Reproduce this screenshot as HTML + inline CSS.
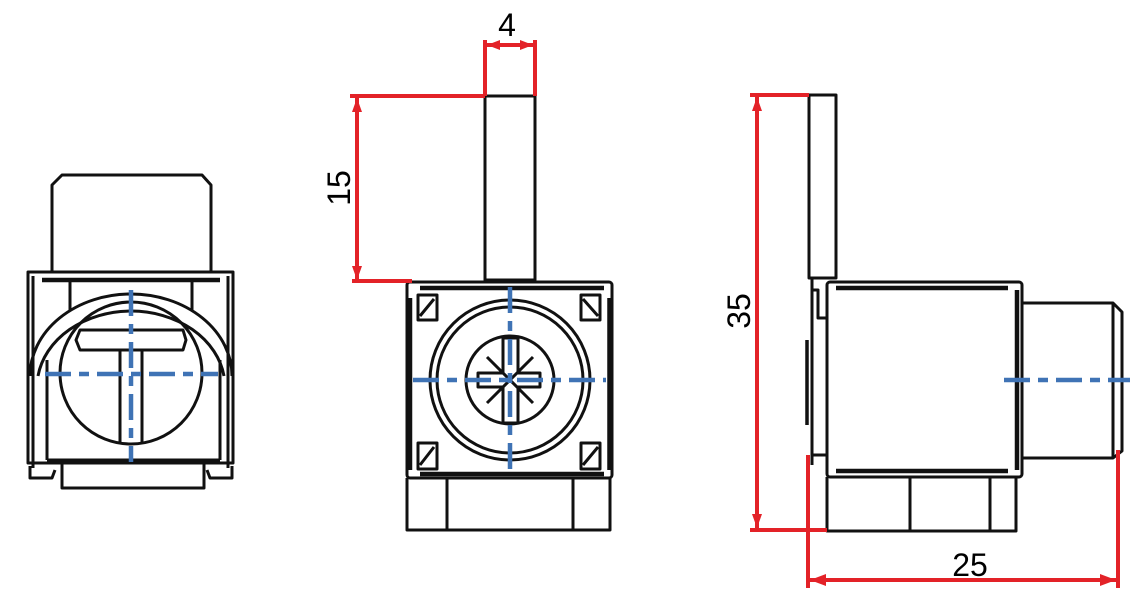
<!DOCTYPE html>
<html><head><meta charset="utf-8"><style>html,body{margin:0;padding:0;background:#fff}svg{display:block}</style></head><body>
<svg width="1140" height="604" viewBox="0 0 1140 604" xmlns="http://www.w3.org/2000/svg" font-family="Liberation Sans, sans-serif">
<g fill="none" stroke="#111" stroke-width="3" stroke-linejoin="round">
<!-- LEFT VIEW -->
<path d="M52 272 V185 L62 175 H202 L211 185 V272"/>
<rect x="28" y="272" width="205" height="191"/>
<line x1="33" y1="276" x2="33" y2="468"/><line x1="228" y1="276" x2="228" y2="468"/>
<line x1="42" y1="280" x2="220" y2="280" stroke-width="4.5"/>
<path d="M47 460 V360 M220 460 V360"/>
<line x1="47" y1="460" x2="220" y2="460"/>
<path d="M70 282 V310 M192 282 V310"/>
<path d="M30 376 A101 82 0 0 1 232 376"/>
<path d="M38 376 A94 76 0 0 1 224 376"/>
<circle cx="131" cy="373" r="71"/>
<path d="M80 330 H183 L186 340 L183 350 H80 L76 340 Z"/>
<path d="M120 350 V443 M142 350 V443"/>
<path d="M62 463 V488 H204 V463"/>
<path d="M30 466 V478 H52 L55 470 M232 466 V478 H210 L207 470"/>

<!-- MIDDLE VIEW -->
<rect x="485" y="96" width="50" height="184"/>
<rect x="407" y="282" width="205" height="196" rx="3"/>
<line x1="420" y1="288" x2="604" y2="288" stroke-width="4.5"/>
<line x1="420" y1="474" x2="604" y2="474" stroke-width="4.5"/>
<line x1="410" y1="298" x2="410" y2="470" stroke-width="4.5"/>
<line x1="609" y1="298" x2="609" y2="470" stroke-width="3.5"/>
<rect x="418" y="295" width="19" height="25"/><line x1="420" y1="316" x2="434" y2="299"/>
<rect x="581" y="295" width="19" height="25"/><line x1="583" y1="299" x2="598" y2="316"/>
<rect x="418" y="443" width="19" height="26"/><line x1="420" y1="465" x2="434" y2="447"/>
<rect x="581" y="443" width="19" height="26"/><line x1="583" y1="465" x2="598" y2="447"/>
<circle cx="510" cy="380" r="80"/>
<circle cx="510" cy="380" r="73"/>
<circle cx="510" cy="380" r="44"/>
<path d="M478 373 H503 V338 H518 V373 H540 V387 H518 V423 H503 V387 H478 Z"/>
<path d="M487 357 L533 403 M533 357 L487 403" stroke-width="3"/>
<path d="M407 478 V530 H610 V478 M447 478 V530 M573 478 V530"/>

<!-- RIGHT VIEW -->
<rect x="809" y="95" width="27" height="183"/>
<path d="M812 278 V465 M812 290 H818 V318 H827 M812 455 H827"/>
<line x1="807" y1="340" x2="807" y2="425" stroke-width="3.5"/>
<rect x="827" y="282" width="195" height="195" rx="3"/>
<line x1="836" y1="288" x2="1008" y2="288" stroke-width="4.5"/>
<line x1="836" y1="471" x2="1008" y2="471" stroke-width="4.5"/>
<line x1="1017" y1="290" x2="1017" y2="470" stroke-width="4.5"/>
<path d="M1022 303 H1113 L1122 312 V451 L1113 458 H1022 M1113 303 V458"/>
<path d="M827 477 V531 H1016 V477 M910 477 V531 M990 477 V531"/>
</g>

<!-- centerlines -->
<g stroke="#3f73b5" stroke-width="4.5" fill="none" stroke-dasharray="26 8 10 8">
<line x1="45" y1="374" x2="218" y2="374"/>
<line x1="131" y1="290" x2="131" y2="462"/>
<line x1="413" y1="380" x2="606" y2="380"/>
<line x1="510" y1="287" x2="510" y2="477"/>
<line x1="1004" y1="380" x2="1130" y2="380"/>
</g>

<!-- dimensions -->
<g stroke="#e32228" stroke-width="4" fill="none">
<path d="M485 40 V96 M535 40 V96 M487 45 H533"/>
<path d="M350 96 H485 M352 281 H412 M357 98 V280"/>
<path d="M750 95 H809 M750 530 H827 M757 97 V528"/>
<path d="M808 455 V588 M1118 450 V588 M810 580 H1116"/>
</g>
<g fill="#e32228">
<path d="M487 45 L500 40 L500 50 Z M533 45 L520 40 L520 50 Z"/>
<path d="M357 98 L352 112 L362 112 Z M357 280 L352 266 L362 266 Z"/>
<path d="M757 97 L752 111 L762 111 Z M757 528 L752 514 L762 514 Z"/>
<path d="M810 580 L826 574 L826 586 Z M1116 580 L1100 574 L1100 586 Z"/>
</g>
<g fill="#000" font-size="32">
<text x="507" y="36" text-anchor="middle">4</text>
<text transform="translate(350,188) rotate(-90)" text-anchor="middle">15</text>
<text transform="translate(750,311) rotate(-90)" text-anchor="middle">35</text>
<text x="970" y="576" text-anchor="middle">25</text>
</g>
</svg>
</body></html>
